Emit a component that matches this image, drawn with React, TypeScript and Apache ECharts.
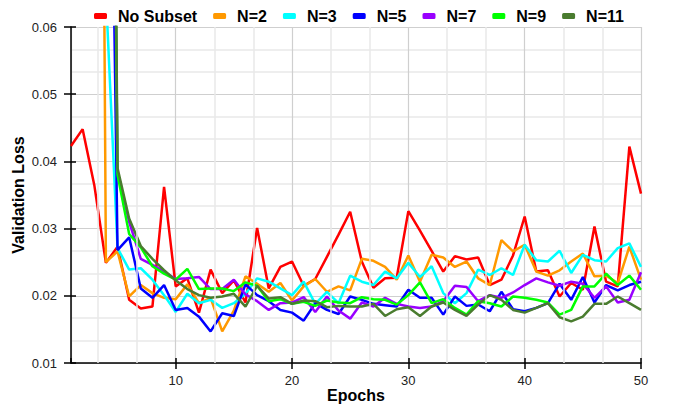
import React, { useEffect, useRef } from "react";
import * as echarts from "echarts";

const epochs: number[] = Array.from({ length: 50 }, (_, i) => i + 1);

const seriesNames = ["No Subset", "N=2", "N=3", "N=5", "N=7", "N=9", "N=11"];
const seriesColors = ["#ff0000", "#ff9900", "#00ffff", "#0000ff", "#9900ff", "#00ff00", "#4a7c2f"];

const noSubset = [
  0.0423, 0.0448, 0.0365, 0.0249, 0.0273, 0.0194, 0.0181, 0.0184, 0.0362, 0.0214,
  0.0226, 0.0175, 0.0239, 0.0204, 0.0223, 0.0190, 0.0301, 0.0211, 0.0243, 0.0251,
  0.0215, 0.0225, 0.0258, 0.0291, 0.0325, 0.0251, 0.0212, 0.0226, 0.0227, 0.0326,
  0.0297, 0.0267, 0.0236, 0.0259, 0.0254, 0.0257, 0.0216, 0.0224, 0.0260, 0.0318,
  0.0236, 0.0238, 0.0199, 0.0219, 0.0209, 0.0303, 0.0221, 0.0214, 0.0422, 0.0352,
];
const n2 = [
  0.5, 0.45, 0.3, 0.0250, 0.0266, 0.0199, 0.0216, 0.0204, 0.0197, 0.0195,
  0.0217, 0.0189, 0.0197, 0.0147, 0.0178, 0.0229, 0.0218, 0.0206, 0.0219, 0.0193,
  0.0214, 0.0225, 0.0206, 0.0214, 0.0208, 0.0255, 0.0252, 0.0243, 0.0224, 0.0260,
  0.0221, 0.0261, 0.0257, 0.0243, 0.0251, 0.0226, 0.0216, 0.0283, 0.0266, 0.0276,
  0.0236, 0.0230, 0.0238, 0.0251, 0.0263, 0.0229, 0.0230, 0.0219, 0.0273, 0.0224,
];
const n3 = [
  0.5, 0.4, 0.3, 0.065, 0.0271, 0.0239, 0.0241, 0.0224, 0.0201, 0.0176,
  0.0203, 0.0189, 0.0194, 0.0182, 0.0189, 0.0203, 0.0226, 0.0221, 0.0211, 0.0201,
  0.0221, 0.0188, 0.0206, 0.0189, 0.0230, 0.0221, 0.0216, 0.0236, 0.0226, 0.0249,
  0.0228, 0.0244, 0.0204, 0.0189, 0.0204, 0.0239, 0.0231, 0.0241, 0.0231, 0.0276,
  0.0253, 0.0251, 0.0267, 0.0234, 0.0261, 0.0253, 0.0251, 0.0271, 0.0278, 0.0243,
];
const n5 = [
  0.5, 0.4, 0.3, 0.15, 0.0268, 0.0287, 0.0211, 0.0197, 0.0216, 0.0179,
  0.0182, 0.0169, 0.0147, 0.0174, 0.0170, 0.0217, 0.0201, 0.0192, 0.0179, 0.0175,
  0.0163, 0.0189, 0.0179, 0.0173, 0.0199, 0.0194, 0.0188, 0.0186, 0.0184, 0.0209,
  0.0197, 0.0197, 0.0172, 0.0199, 0.0185, 0.0187, 0.0177, 0.0206, 0.0180, 0.0177,
  0.0182, 0.0189, 0.0218, 0.0194, 0.0228, 0.0190, 0.0216, 0.0208, 0.0216, 0.0221,
];
const n7 = [
  0.6, 0.5, 0.4, 0.2, 0.0385, 0.0310, 0.0255, 0.0246, 0.0236, 0.0225,
  0.0226, 0.0228, 0.0210, 0.0210, 0.0224, 0.0202, 0.0192, 0.0179, 0.0189, 0.0190,
  0.0198, 0.0176, 0.0199, 0.0178, 0.0166, 0.0190, 0.0184, 0.0197, 0.0188, 0.0184,
  0.0182, 0.0184, 0.0192, 0.0215, 0.0213, 0.0192, 0.0201, 0.0197, 0.0205, 0.0216,
  0.0226, 0.0220, 0.0215, 0.0221, 0.0218, 0.0197, 0.0214, 0.0190, 0.0194, 0.0235,
];
const n9 = [
  0.6, 0.5, 0.4, 0.22, 0.0380, 0.0292, 0.0272, 0.0244, 0.0233, 0.0224,
  0.0240, 0.0210, 0.0211, 0.0211, 0.0207, 0.0220, 0.0215, 0.0192, 0.0195, 0.0188,
  0.0191, 0.0185, 0.0193, 0.0190, 0.0189, 0.0198, 0.0195, 0.0194, 0.0187, 0.0201,
  0.0220, 0.0189, 0.0195, 0.0182, 0.0172, 0.0192, 0.0189, 0.0184, 0.0199, 0.0197,
  0.0194, 0.0190, 0.0172, 0.0179, 0.0214, 0.0214, 0.0233, 0.0216, 0.0230, 0.0209,
];
const n11 = [
  0.6, 0.5, 0.4, 0.25, 0.0390, 0.0315, 0.0274, 0.0255, 0.0238, 0.0223,
  0.0210, 0.0201, 0.0197, 0.0199, 0.0203, 0.0184, 0.0215, 0.0196, 0.0198, 0.0188,
  0.0193, 0.0192, 0.0183, 0.0185, 0.0184, 0.0184, 0.0188, 0.0170, 0.0180, 0.0183,
  0.0170, 0.0184, 0.0190, 0.0179, 0.0170, 0.0187, 0.0201, 0.0194, 0.0179, 0.0175,
  0.0182, 0.0189, 0.0168, 0.0162, 0.0169, 0.0188, 0.0188, 0.0199, 0.0189, 0.0179,
];

const allSeries = [noSubset, n2, n3, n5, n7, n9, n11];

// minor vertical grid positions (every 10/3 epochs, excluding the major ticks)
const minorGridEpochs = [1, 2, 4, 5, 7, 8, 10, 11, 13, 14].map((k) => (k * 10) / 3);

const FONT = "Liberation Sans, Arial, sans-serif";

export default function App() {
  const ref = useRef<HTMLDivElement>(null);
  useEffect(() => {
    if (!ref.current) return;
    const chart = echarts.init(ref.current, undefined, { renderer: "svg" });
    const lineSeries = seriesNames.map((name, i) => ({
      name,
      type: "line",
      xAxisIndex: 0,
      yAxisIndex: 0,
      data: epochs.map((e, j) => [e, allSeries[i][j]]),
      showSymbol: false,
      symbol: "none",
      clip: true,
      z: 3,
      lineStyle: { color: seriesColors[i], width: 2.5 },
      itemStyle: { color: seriesColors[i] },
    }));
    chart.setOption({
      animation: false,
      backgroundColor: "#ffffff",
      textStyle: { fontFamily: FONT },
      legend: {
        data: seriesNames,
        top: 3,
        left: 89,
        itemWidth: 13,
        itemHeight: 6,
        itemGap: 16,
        icon: "roundRect",
        textStyle: { fontFamily: FONT, fontWeight: "bold", fontSize: 16, color: "#000", padding: [0, 0, 0, 6] },
      },
      grid: { left: 71, right: 36, top: 27, bottom: 42, containLabel: false, outerBoundsMode: "none" },
      xAxis: [
        {
          type: "value",
          min: 1,
          max: 50,
          name: "Epochs",
          nameLocation: "middle",
          nameGap: 24,
          nameMoveOverlap: false,
          nameTextStyle: { fontFamily: FONT, fontWeight: "bold", fontSize: 16, color: "#000" },
          axisLine: { lineStyle: { color: "#000", width: 1.5 } },
          axisTick: { show: true, length: 6, lineStyle: { color: "#000", width: 1.5 } },
          axisLabel: { showMinLabel: false, fontSize: 13, color: "#222", margin: 11, fontFamily: FONT },
          splitLine: { show: true, lineStyle: { color: "#cfcfcf", width: 1.2 } },
        },
        {
          type: "value",
          min: 1,
          max: 50,
          position: "bottom",
          axisLine: { show: false },
          axisTick: { show: true, inside: true, length: 5, lineStyle: { color: "#000", width: 1.5 } },
          axisLabel: { show: false },
          splitLine: { show: false },
        },
      ],
      yAxis: [
        {
          type: "value",
          min: 0.01,
          max: 0.06,
          interval: 0.01,
          name: "Validation Loss",
          nameLocation: "middle",
          nameGap: 45,
          nameMoveOverlap: false,
          nameTextStyle: { fontFamily: FONT, fontWeight: "bold", fontSize: 16, color: "#000" },
          axisLine: { show: true, lineStyle: { color: "#000", width: 1.5 } },
          axisTick: { show: true, length: 7, lineStyle: { color: "#000", width: 1.5 } },
          axisLabel: {
            fontSize: 13,
            color: "#222",
            margin: 14,
            fontFamily: FONT,
            formatter: (v: number) => v.toFixed(2),
          },
          splitLine: { show: true, lineStyle: { color: "#cfcfcf", width: 1.2 } },
          minorTick: { show: false, splitNumber: 3 },
          minorSplitLine: { show: true, lineStyle: { color: "#e8e8e8", width: 1.5 } },
        },
        {
          type: "value",
          min: 0.01,
          max: 0.06,
          interval: 0.01,
          position: "left",
          axisLine: { show: false },
          axisTick: { show: true, inside: true, length: 5, lineStyle: { color: "#000", width: 1.5 } },
          axisLabel: { show: false },
          splitLine: { show: false },
        },
      ],
      series: [
        {
          name: "_grid",
          type: "line",
          xAxisIndex: 0,
          yAxisIndex: 0,
          data: [],
          z: 1,
          silent: true,
          markLine: {
            silent: true,
            symbol: "none",
            label: { show: false },
            lineStyle: { color: "#e8e8e8", width: 1.5, type: "solid" },
            data: minorGridEpochs.map((v) => ({ xAxis: v })),
          },
        },
        ...lineSeries,
      ],
    });
    return () => chart.dispose();
  }, []);
  return <div ref={ref} style={{ width: 677, height: 405, position: "absolute", left: 0, top: 0 }} />;
}
